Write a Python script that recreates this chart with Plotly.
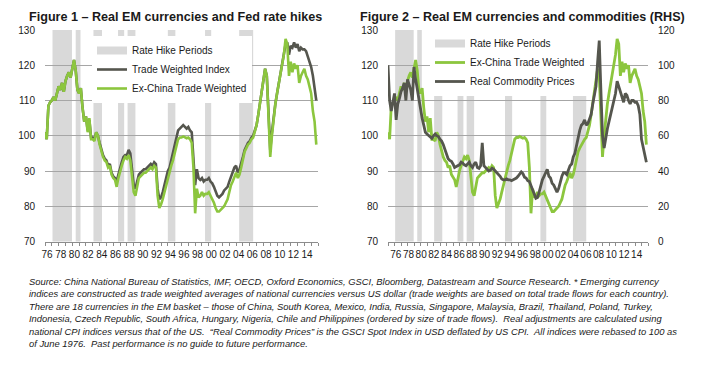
import numpy as np
import plotly.graph_objects as go

# ---------------- data (quarterly, from Q1 1976) ----------------
start_year = 1976
twi = [
    101, 99, 108.5, 109.5,  110, 111, 110, 112.5,  114, 113, 115, 112.5,  115.5, 117, 118, 116.5,
    119, 121.5, 118.5, 113,  112, 113.5, 108, 104,  105.5, 101.5, 104.5, 99.5,  99.5, 99, 101, 100,
    98, 96, 94.5, 93.5,  93, 91.5, 92, 89.5,  88.5, 88, 87, 89,  91, 92.5, 94, 94.5,
    94.5, 96, 95, 89.5,  86, 85, 87.5, 89,  89.5, 90, 90.5, 90.5,  91, 91.5, 92, 91.5,
    92.5, 92, 85, 82,  82.5, 84, 86, 88,  90, 91, 93, 95,  97, 99, 101.5, 102,
    102.5, 103, 102.5, 102,  102.5, 101.5, 101, 94,  86, 90.5, 88, 87.5,  88, 87, 87.5, 87.5,
    88, 87, 86.5, 85.5,  84, 83, 82.5, 83,  83.5, 84.5, 85, 85.5,  87, 88.5, 89.5, 91,
    91.5, 89.5, 90.5, 92,  94, 96, 97, 98,  98.5, 99.5, 100, 101.5,  103, 106, 109, 112,
    115, 119, 117, 106,  96, 101, 105.5, 109,  112, 115, 117, 120,  123, 126, 126.5, 123,
    125.5, 125, 126.5, 125,  126, 124, 125, 124.5,  124.5, 124, 122.5, 121,  119.5, 117, 114, 110,
]
exchina = [
    101, 99, 108.5, 109.5,  110, 111, 110, 112.5,  114, 113, 115, 112.5,  115.5, 117, 118, 116.5,
    119, 121.5, 118.5, 113,  112, 113.5, 108, 104,  105.5, 101, 105, 99,  99, 98.5, 101, 100,
    97.5, 95.5, 94, 93,  92.5, 91, 91.5, 89,  88, 87.5, 85.5, 88,  90, 91.5, 93, 94,
    93.5, 94.5, 93, 88,  84, 83, 86, 88,  88.5, 89, 89.5, 89.5,  90, 90.5, 91, 90.5,
    91.5, 91, 83, 79.5,  80.5, 82, 84, 86,  88, 89.5, 91.5, 93,  95, 96.5, 99, 99.5,
    99.5, 99.8, 99.5, 99.3,  99.5, 99, 98, 91,  78, 85, 82.5, 83,  84, 83, 83.5, 83.5,
    84, 83, 82, 81,  79.5, 78.5, 78.5, 79,  79.5, 80, 81, 82,  84, 86, 87, 88.5,
    89.5, 88, 89, 91,  93.5, 95.5, 96.5, 97.5,  98, 99, 99.5, 101,  103, 106, 109, 112,
    115, 119, 117, 105,  94, 100, 105, 109,  112, 115, 117, 120,  123, 127.5, 126, 117,
    121, 118, 120.5, 119,  120, 115, 117, 118,  119, 117, 116, 114,  112, 107, 104, 97.5,
]
commodities = [
    100, 80, 74, 79,  84, 69, 78, 81,  85, 87, 90, 80,  92, 89, 86, 80,
    99, 92, 86, 82,  76, 70, 66, 62,  61, 60, 59, 58.5,  60, 61, 60, 59.5,
    58, 57, 55, 52,  50, 47, 46, 45.5,  44, 42, 42.5, 43,  43.5, 45, 44.5, 43.5,
    43, 44, 45, 43,  42, 44, 45, 42,  41.5, 43, 56, 43,  42, 41, 40, 40.5,
    41.5, 41, 40, 39.5,  38, 37, 35.5, 35,  35, 35.5, 35, 35,  34.5, 35, 35.5, 36,
    37, 38, 39.5, 38.5,  36.5, 36, 34.5, 34,  32, 30, 27, 24.5,  25, 28, 32, 35,
    37, 39, 41, 37,  36, 33, 32, 30,  28, 30, 34, 37,  39, 39, 38, 41,
    43, 44, 48, 50,  55, 60, 63, 66,  67, 69, 66, 67,  70, 72, 78, 83,
    88, 102, 114, 86,  60, 53, 60, 64,  68, 72, 75, 80,  84, 91, 88, 85,
    82, 79, 84, 83,  80, 78, 80, 80,  79, 79, 77, 72,  58, 53, 50, 45,
]
hike_starts = [1977.1, 1980.5, 1983.1, 1986.7, 1988.1, 1994.0, 1999.45, 2004.45]
hike_ends = [1979.95, 1981.2, 1984.35, 1987.6, 1989.25, 1995.1, 2000.35, 2006.5]
year_labels = ["76", "78", "80", "82", "84", "86", "88", "90", "92", "94",
               "96", "98", "00", "02", "04", "06", "08", "10", "12", "14"]

dates = [start_year + i / 4 for i in range(len(twi))]

# ---------------- style ----------------
W, H = 720, 368
OFF = 8  # page body margin offset
FONT = "Liberation Sans, Arial, sans-serif"
GREEN = "#8cc63e"
DARK = "#55564e"
BAND = "#d9d9d9"
GRID = "#a6a6a6"
TXT = "#1a1a1a"


def fx(px):
    return (px - OFF) / W


def fy(py):
    return 1 - (py - OFF) / H


fig = go.Figure()

# left chart
fig.add_trace(go.Scatter(x=[None], y=[None], mode="lines", name="Rate Hike Periods",
                         line=dict(color=BAND, width=8), xaxis="x", yaxis="y",
                         legend="legend"))
fig.add_trace(go.Scatter(x=dates, y=twi, mode="lines", name="Trade Weighted Index",
                         line=dict(color=DARK, width=2.6), xaxis="x", yaxis="y",
                         legend="legend"))
fig.add_trace(go.Scatter(x=dates, y=exchina, mode="lines", name="Ex-China Trade Weighted",
                         line=dict(color=GREEN, width=2.6), xaxis="x", yaxis="y",
                         legend="legend"))

# right chart
fig.add_trace(go.Scatter(x=[None], y=[None], mode="lines", name="Rate Hike Periods",
                         line=dict(color=BAND, width=8), xaxis="x2", yaxis="y2",
                         legend="legend2"))
fig.add_trace(go.Scatter(x=dates, y=exchina, mode="lines", name="Ex-China Trade Weighted",
                         line=dict(color=GREEN, width=2.8), xaxis="x2", yaxis="y2",
                         legend="legend2"))
fig.add_trace(go.Scatter(x=dates, y=commodities, mode="lines", name="Real Commodity Prices",
                         line=dict(color=DARK, width=2.8), xaxis="x2", yaxis="y3",
                         legend="legend2"))

shapes = []
for s, e in zip(hike_starts, hike_ends):
    for xr, yr in (("x", "y domain"), ("x2", "y2 domain")):
        shapes.append(dict(type="rect", xref=xr, yref=yr, x0=s, x1=e, y0=0, y1=1,
                           fillcolor=BAND, line=dict(width=0), layer="below"))

left_ticks = list(np.linspace(1976.3, 2014.4, len(year_labels)))
right_ticks = list(np.linspace(1977.2, 2014.25, len(year_labels)))

TICKFONT = dict(family=FONT, size=10, color=TXT)
xcommon = dict(range=[1976, 2016], showgrid=False, zeroline=False, showline=True,
               linecolor="#8c8c8c", linewidth=1, ticks="", ticktext=year_labels,
               tickangle=0, automargin=False,
               tickfont=TICKFONT, ticklabelstandoff=3,
               minor=dict(ticks="outside", tick0=1976, dtick=1, ticklen=3,
                          tickcolor="#8c8c8c", showgrid=False))
ycommon = dict(range=[70, 130], dtick=10, showgrid=True, gridcolor=GRID, gridwidth=1,
               zeroline=False, showline=False, ticks="", automargin=False,
               tickfont=TICKFONT, ticklabelstandoff=9)

ydom = [fy(241.5), fy(30)]
LEGFONT = dict(family=FONT, size=10, color=TXT)
fig.update_layout(
    width=W, height=H, margin=dict(l=0, r=0, t=0, b=0, autoexpand=False),
    paper_bgcolor="white", plot_bgcolor="white",
    font=dict(family=FONT, color=TXT),
    xaxis=dict(domain=[fx(45), fx(318)], anchor="y", tickvals=left_ticks, **xcommon),
    yaxis=dict(domain=ydom, anchor="x", **ycommon),
    xaxis2=dict(domain=[fx(388), fx(648)], anchor="y2", tickvals=right_ticks, **xcommon),
    yaxis2=dict(domain=ydom, anchor="x2", **ycommon),
    yaxis3=dict(range=[0, 120], dtick=20, overlaying="y2", side="right", anchor="x2",
                showgrid=False, zeroline=False, showline=False, ticks="", automargin=False,
                tickfont=TICKFONT, ticklabelstandoff=9),
    shapes=shapes,
    legend=dict(x=fx(92), y=fy(36), xanchor="left", yanchor="top", bgcolor="white",
                borderwidth=0, font=LEGFONT, itemwidth=30, traceorder="normal"),
    legend2=dict(x=fx(430), y=fy(29), xanchor="left", yanchor="top", bgcolor="white",
                 borderwidth=0, font=LEGFONT, itemwidth=30, traceorder="normal"),
    showlegend=True,
)

annotations = [
    dict(text="<b>Figure 1 – Real EM currencies and Fed rate hikes</b>", x=fx(27), y=1,
         xanchor="left", yanchor="top", font=dict(family=FONT, size=12.6, color=TXT)),
    dict(text="<b>Figure 2 – Real EM currencies and commodities (RHS)</b>", x=fx(358), y=1,
         xanchor="left", yanchor="top", font=dict(family=FONT, size=12.6, color=TXT)),
]
foot = [
    "Source: China National Bureau of Statistics, IMF, OECD, Oxford Economics, GSCI, Bloomberg, Datastream and Source Research. * Emerging currency",
    "indices are constructed as trade weighted averages of national currencies versus US dollar (trade weights are based on total trade flows for each country).",
    "There are 18 currencies in the EM basket – those of China, South Korea, Mexico, India, Russia, Singapore, Malaysia, Brazil, Thailand, Poland, Turkey,",
    "Indonesia, Czech Republic, South Africa, Hungary, Nigeria, Chile and Philippines (ordered by size of trade flows).  Real adjustments are calculated using",
    "national CPI indices versus that of the US.  “Real Commodity Prices” is the GSCI Spot Index in USD deflated by US CPI.  All indices were rebased to 100 as",
    "of June 1976.  Past performance is no guide to future performance.",
]
for i, line in enumerate(foot):
    annotations.append(dict(text=f"<i>{line}</i>", x=fx(27), y=fy(281 + i * 12.5),
                            xanchor="left", yanchor="middle",
                            font=dict(family=FONT, size=9.4, color=TXT)))
for a in annotations:
    a.update(xref="paper", yref="paper", showarrow=False)
fig.update_layout(annotations=annotations)

fig.write_html("out.html")
